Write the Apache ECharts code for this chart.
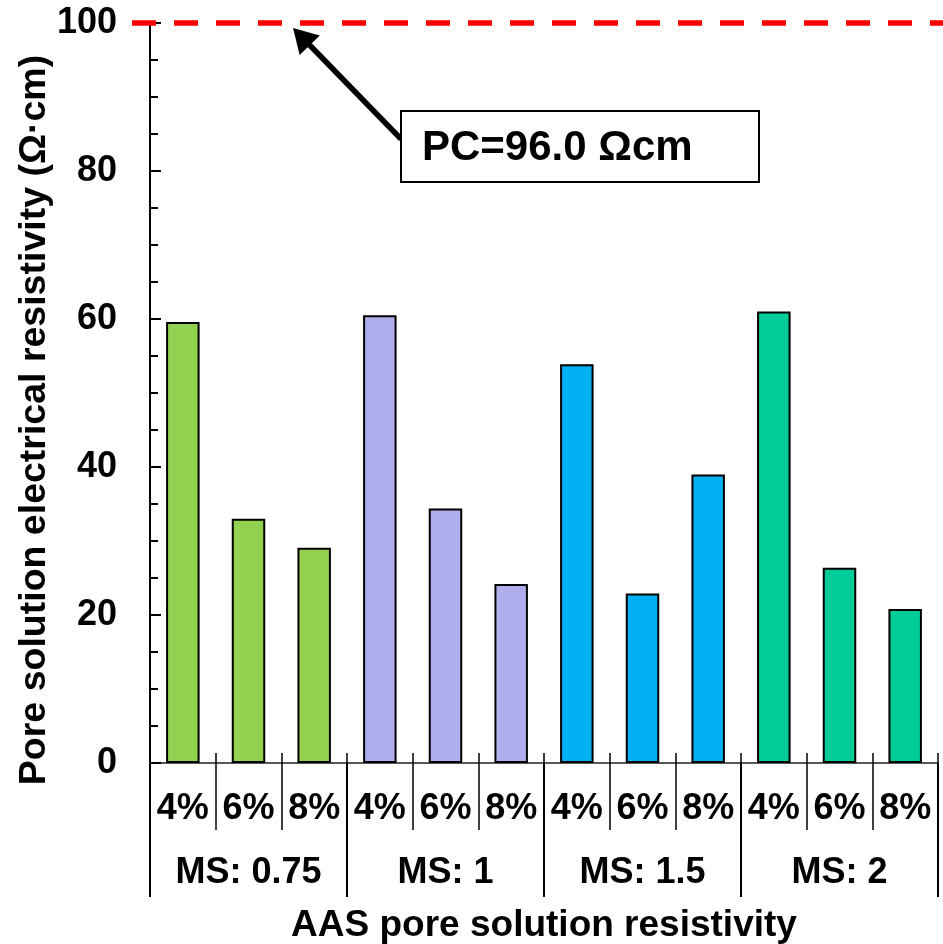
<!DOCTYPE html>
<html>
<head>
<meta charset="utf-8">
<title>Pore solution electrical resistivity</title>
<script src="https://cdn.jsdelivr.net/npm/echarts@6/dist/echarts.min.js"></script>
<style>
  html, body { margin: 0; padding: 0; background: #fff; }
  #chart { width: 943px; height: 944px; }
</style>
</head>
<body>
<div id="chart"></div>
<script>
// Dosage of each mix and the modulus groups they belong to
const dosages = ['4%', '6%', '8%', '4%', '6%', '8%', '4%', '6%', '8%', '4%', '6%', '8%'];
const groups = ['MS: 0.75', 'MS: 1', 'MS: 1.5', 'MS: 2'];
// AAS pore solution resistivity, Ω·cm
const resistivity = [59.6, 33.0, 29.1, 60.5, 34.4, 24.2, 53.9, 22.9, 39.0, 61.0, 26.4, 20.8];
// Portland cement reference level and its note
const pcLevel = 100;
const pcNote = 'PC=96.0 Ωcm';
const yTicks = { min: 0, max: 100, interval: 20 };

const groupColors = ['#92D050', '#AFADEB', '#00B0F0', '#00CC99'];
const FONT = '"Liberation Sans", Arial, sans-serif';

const chart = echarts.init(document.getElementById('chart'), null, { renderer: 'canvas' });

const baseText = { color: '#000', fontFamily: FONT, fontWeight: 'bold' };

chart.setOption({
  animation: false,
  backgroundColor: '#fff',
  grid: { left: 150, right: 5, top: 23, bottom: 181, containLabel: false, outerBoundsMode: 'none' },
  xAxis: [
    {
      type: 'category',
      data: dosages,
      position: 'bottom',
      axisLine: { show: true, lineStyle: { color: '#222', width: 1.5 } },
      axisTick: { show: true, inside: true, length: 10, interval: 0, lineStyle: { color: '#000', width: 1.5 } },
      axisLabel: Object.assign({ fontSize: 36, margin: 46, verticalAlign: 'middle', interval: 0 }, baseText),
      splitLine: { show: false }
    },
    {
      type: 'category',
      data: dosages,
      position: 'bottom',
      axisLine: { show: false },
      axisTick: { show: true, inside: false, length: 67, interval: 0, lineStyle: { color: '#000', width: 1.5 } },
      axisLabel: { show: false },
      splitLine: { show: false }
    },
    {
      type: 'category',
      data: groups,
      position: 'bottom',
      axisLine: { show: false },
      axisTick: { show: true, inside: false, length: 134, interval: 0, lineStyle: { color: '#000', width: 2 } },
      axisLabel: Object.assign({ fontSize: 36, margin: 110, verticalAlign: 'middle', interval: 0 }, baseText),
      name: 'AAS pore solution resistivity',
      nameLocation: 'middle',
      nameGap: 163,
      nameMoveOverlap: false,
      nameTextStyle: Object.assign({ fontSize: 37, verticalAlign: 'middle' }, baseText),
      splitLine: { show: false }
    }
  ],
  yAxis: {
    type: 'value',
    min: yTicks.min,
    max: yTicks.max,
    interval: yTicks.interval,
    name: 'Pore solution electrical resistivity (Ω·cm)',
    nameLocation: 'middle',
    nameGap: 96,
    nameRotate: 90,
    nameMoveOverlap: false,
    nameTextStyle: Object.assign({ fontSize: 37.5, padding: [0, 54, 0, 0] }, baseText),
    axisLine: { show: true, lineStyle: { color: '#000', width: 2 } },
    axisTick: { show: true, inside: true, length: 11, lineStyle: { color: '#000', width: 2 } },
    minorTick: { show: true, splitNumber: 4, length: 8, lineStyle: { color: '#000', width: 2 } },
    axisLabel: Object.assign({ fontSize: 36, margin: 33 }, baseText),
    splitLine: { show: false }
  },
  series: [
    {
      type: 'bar',
      xAxisIndex: 0,
      data: resistivity,
      barWidth: '51%',
      itemStyle: {
        color: (p) => groupColors[Math.floor(p.dataIndex / 3)],
        borderColor: '#000',
        borderWidth: 2
      }
    }
  ]
});

// Reference line, arrow and note for the PC level, placed from the value axis
function drawNote() {
  const yLine = chart.convertToPixel({ yAxisIndex: 0 }, pcLevel);
  const tip = [293, yLine + 5];
  const tail = [401, yLine + 116];
  const dx = tail[0] - tip[0], dy = tail[1] - tip[1];
  const len = Math.sqrt(dx * dx + dy * dy);
  const ux = dx / len, uy = dy / len;
  const headLen = 24, headHalf = 14;
  const bx = tip[0] + ux * headLen, by = tip[1] + uy * headLen;
  const head = [
    tip,
    [bx - uy * headHalf, by + ux * headHalf],
    [bx + uy * headHalf, by - ux * headHalf]
  ];
  chart.setOption({
    graphic: [
      {
        type: 'line',
        z: 100,
        shape: { x1: 132, y1: yLine, x2: 943, y2: yLine },
        style: { stroke: '#FF0000', lineWidth: 5.5, lineDash: [24, 18] }
      },
      {
        type: 'line',
        z: 100,
        shape: { x1: bx - ux * 2, y1: by - uy * 2, x2: tail[0], y2: tail[1] },
        style: { stroke: '#000', lineWidth: 5.5 }
      },
      {
        type: 'polygon',
        z: 100,
        shape: { points: head },
        style: { fill: '#000' }
      },
      {
        type: 'rect',
        z: 100,
        shape: { x: 401, y: yLine + 88, width: 358, height: 71 },
        style: { fill: '#fff', stroke: '#000', lineWidth: 2 }
      },
      {
        type: 'text',
        z: 101,
        x: 422,
        y: yLine + 125,
        style: {
          text: pcNote,
          fill: '#000',
          font: 'bold 42px ' + FONT,
          textVerticalAlign: 'middle'
        }
      }
    ]
  });
}
drawNote();
</script>
</body>
</html>
